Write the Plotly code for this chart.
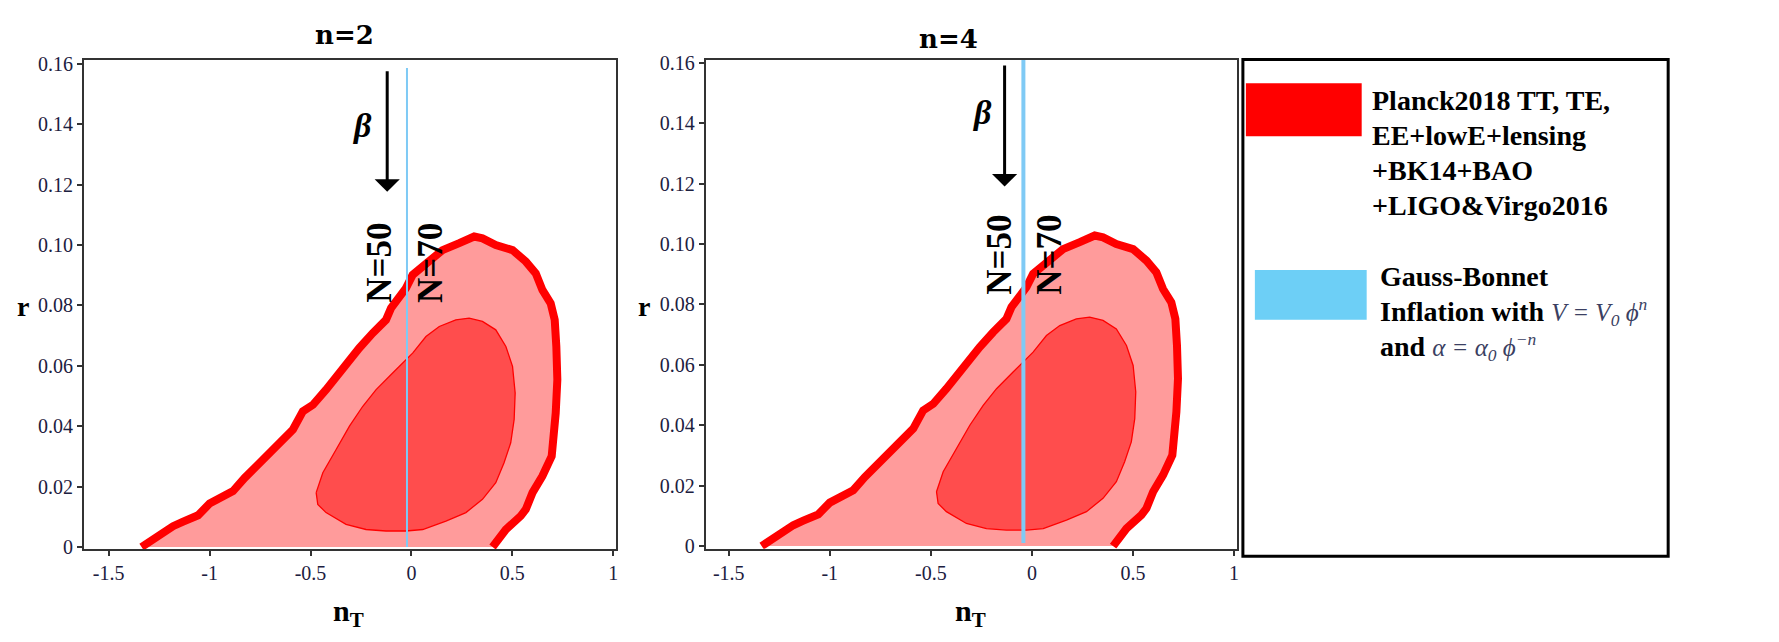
import plotly.graph_objects as go

# -----------------------------
# DATA
# -----------------------------
panel_titles = ["n=2", "n=4"]

# 2-sigma (outer) contour, open at r=0
outer_nt = [-1.337, -1.247, -1.181, -1.131, -1.057, -1.000, -0.950, -0.884, -0.826, -0.752,
            -0.670, -0.587, -0.538, -0.488, -0.423, -0.373, -0.307, -0.258, -0.192, -0.126,
            -0.101, -0.027, 0.006, 0.072, 0.154, 0.237, 0.311, 0.352, 0.418, 0.501,
            0.567, 0.616, 0.649, 0.690, 0.710, 0.718, 0.723, 0.715, 0.707, 0.695,
            0.649, 0.600, 0.567, 0.542, 0.468, 0.402]
outer_r = [0.0, 0.0042, 0.0069, 0.0084, 0.0105, 0.0144, 0.0160, 0.0185, 0.0229, 0.0279,
           0.0334, 0.0389, 0.0449, 0.0471, 0.0521, 0.0565, 0.0620, 0.0659, 0.0708, 0.0752,
           0.0791, 0.0857, 0.0901, 0.0939, 0.0983, 0.1006, 0.1028, 0.1022, 0.1000, 0.0983,
           0.0945, 0.0906, 0.0851, 0.0807, 0.0752, 0.0664, 0.0554, 0.0444, 0.0356, 0.0301,
           0.0235, 0.0180, 0.0125, 0.0103, 0.0058, 0.0]

# 1-sigma (inner) contour, closed
inner_nt = [-0.472, -0.439, -0.373, -0.307, -0.241, -0.175, -0.093, -0.027, 0.006, 0.072,
            0.138, 0.220, 0.286, 0.352, 0.418, 0.468, 0.501, 0.514, 0.509, 0.492,
            0.459, 0.418, 0.352, 0.270, 0.171, 0.056, -0.027, -0.126, -0.225, -0.324,
            -0.423, -0.464, -0.472]
inner_r = [0.0180, 0.0246, 0.0323, 0.0400, 0.0466, 0.0521, 0.0576, 0.0620, 0.0642, 0.0697,
           0.0730, 0.0752, 0.0758, 0.0747, 0.0719, 0.0664, 0.0598, 0.0510, 0.0422, 0.0345,
           0.0279, 0.0213, 0.0158, 0.0114, 0.0086, 0.0058, 0.0053, 0.0053, 0.0058, 0.0075,
           0.0114, 0.0141, 0.0180]

# Gauss-Bonnet prediction (vertical line) per panel
gb_nt = [-0.022, -0.042]
gb_r = [[0.0, 0.1586], [0.001, 0.161]]
gb_width = [2, 4]

# beta arrow (tail r, tip r) and its x per panel
beta_x = [-0.120, -0.135]
beta_r = [[0.158, 0.1176], [0.1596, 0.119]]
beta_label_x = [-0.243, -0.245]
beta_label_r = [0.1396, 0.1434]

# N labels
n50_x = [-0.162, -0.158]
n70_x = [0.092, 0.089]
n_label_r = [0.094, 0.0964]

x_ticks = [-1.5, -1, -0.5, 0, 0.5, 1]
x_ticktext = ["-1.5", "-1", "-0.5", "0", "0.5", "1"]
y_ticks = [0, 0.02, 0.04, 0.06, 0.08, 0.10, 0.12, 0.14, 0.16]
y_ticktext = ["0", "0.02", "0.04", "0.06", "0.08", "0.10", "0.12", "0.14", "0.16"]

legend_planck = ["Planck2018 TT, TE,", "EE+lowE+lensing", "+BK14+BAO", "+LIGO&Virgo2016"]

# -----------------------------
# STYLE
# -----------------------------
# page keeps the browser's 8px body margin, so the figure is 16px smaller than the window
OFF = 8
W, H = 1779 - 2 * OFF, 642 - 2 * OFF
SERIF = "Liberation Serif, Times New Roman, serif"
WIDE = "DejaVu Serif, serif"
LIGHT = "#ff9b9b"
DARK = "#ff4d4d"
RED = "#ff0000"
BLUE = "#7fcaf5"
MATH = "#3b3f62"


def px(x):
    # window pixel -> paper fraction
    return (x - OFF) / W


def py(y):
    # vertical tweak: the rendered page came out ~2.5% squashed vertically
    y = (y - 7.7) / 0.975
    return 1 - (y - OFF) / H


domains_x = [[px(84), px(616.7)], [px(706.7), px(1239.3)]]
domains_y = [[py(550), py(60)], [py(549.5), py(59.3)]]
ranges_x = [[-1.623, 1.012], [-1.615, 1.016]]
ranges_y = [[-0.00076, 0.1611], [-0.0009, 0.161]]

fig = go.Figure()
annotations = []


def note(x, y, text, size, family=SERIF, xanchor="center", **kw):
    d = dict(x=x, y=y, text=text, showarrow=False, xanchor=xanchor, yanchor="middle",
             font=dict(family=family, size=size, color="black"))
    d.update(kw)
    annotations.append(d)


for i in range(2):
    xa = "x" if i == 0 else "x2"
    ya = "y" if i == 0 else "y2"

    # 2-sigma filled region
    fig.add_trace(go.Scatter(x=outer_nt, y=outer_r, xaxis=xa, yaxis=ya, mode="none",
                             fill="toself", fillcolor=LIGHT, hoverinfo="skip"))
    # 1-sigma region
    fig.add_trace(go.Scatter(x=inner_nt, y=inner_r, xaxis=xa, yaxis=ya, mode="lines",
                             fill="toself", fillcolor=DARK,
                             line=dict(color=RED, width=1.3), hoverinfo="skip"))
    # thick outer contour
    fig.add_trace(go.Scatter(x=outer_nt, y=outer_r, xaxis=xa, yaxis=ya, mode="lines",
                             line=dict(color=RED, width=8), hoverinfo="skip"))
    # GB line
    fig.add_trace(go.Scatter(x=[gb_nt[i], gb_nt[i]], y=gb_r[i], xaxis=xa, yaxis=ya,
                             mode="lines", line=dict(color=BLUE, width=gb_width[i]),
                             hoverinfo="skip"))

    # beta arrow
    annotations.append(dict(x=beta_x[i], y=beta_r[i][1], ax=beta_x[i], ay=beta_r[i][0],
                            xref=xa, yref=ya, axref=xa, ayref=ya, text="", showarrow=True,
                            arrowhead=1, arrowsize=1.4, arrowwidth=3, arrowcolor="black"))
    note(beta_label_x[i], beta_label_r[i], "<b><i>β</i></b>", 34, xref=xa, yref=ya)
    note(n50_x[i], n_label_r[i], "<b>N=50</b>", 35, xref=xa, yref=ya, textangle=-90)
    note(n70_x[i], n_label_r[i], "<b>N=70</b>", 35, xref=xa, yref=ya, textangle=-90)

# panel titles and axis titles
title_pos = [(345, 35), (950, 39)]
r_pos = [(23, 307), (645, 307)]
nt_pos = [(349, 614), (972, 614)]
for i in range(2):
    note(px(title_pos[i][0]), py(title_pos[i][1]), "<b>" + panel_titles[i] + "</b>", 26,
         family=WIDE, xref="paper", yref="paper")
    note(px(r_pos[i][0]), py(r_pos[i][1]), "<b>r</b>", 28, xref="paper", yref="paper")
    note(px(nt_pos[i][0]), py(nt_pos[i][1]), "<b>n<sub>T</sub></b>", 30,
         xref="paper", yref="paper")

# legend text
for k, line in enumerate(legend_planck):
    note(px(1372), py(100 + k * 35), "<b>" + line + "</b>", 28, xanchor="left",
         xref="paper", yref="paper")

math_style = "font-weight:normal;font-style:italic;color:" + MATH + ";font-size:25px"
gb_lines = [
    "<b>Gauss-Bonnet</b>",
    "<b>Inflation with</b> <span style='" + math_style + "'>V = V<sub>0</sub> ϕ<sup>n</sup></span>",
    "<b>and</b> <span style='" + math_style + "'>α = α<sub>0</sub> ϕ<sup>−n</sup></span>",
]
for k, line in enumerate(gb_lines):
    note(px(1380), py(277 + k * 35), line, 28, xanchor="left", xref="paper", yref="paper")

shapes = [
    dict(type="rect", xref="paper", yref="paper", x0=px(1245), x1=px(1671), y0=py(557), y1=py(59),
         line=dict(color="black", width=3)),
    dict(type="rect", xref="paper", yref="paper", x0=px(1248), x1=px(1364), y0=py(136), y1=py(83),
         line=dict(width=0), fillcolor=RED),
    dict(type="rect", xref="paper", yref="paper", x0=px(1257), x1=px(1369), y0=py(320), y1=py(270),
         line=dict(width=0), fillcolor="#6dcff6"),
]

axis_common = dict(showgrid=False, zeroline=False, showline=True, mirror=True,
                   linecolor="#333333", linewidth=1.5, ticks="outside", ticklen=5,
                   tickwidth=1.5, tickcolor="#333333",
                   tickfont=dict(family=SERIF, size=20, color="#1c2040"))

layout = dict(width=W, height=H, margin=dict(l=0, r=0, t=0, b=0),
              paper_bgcolor="white", plot_bgcolor="white", showlegend=False,
              annotations=annotations, shapes=shapes)
for i in range(2):
    sfx = "" if i == 0 else "2"
    layout["xaxis" + sfx] = dict(axis_common, domain=domains_x[i], range=ranges_x[i],
                                 tickmode="array", tickvals=x_ticks, ticktext=x_ticktext,
                                 anchor="y" + sfx)
    layout["yaxis" + sfx] = dict(axis_common, domain=domains_y[i], range=ranges_y[i],
                                 tickmode="array", tickvals=y_ticks, ticktext=y_ticktext,
                                 anchor="x" + sfx)

fig.update_layout(**layout)
fig.write_html("out.html", config={"displayModeBar": False})
